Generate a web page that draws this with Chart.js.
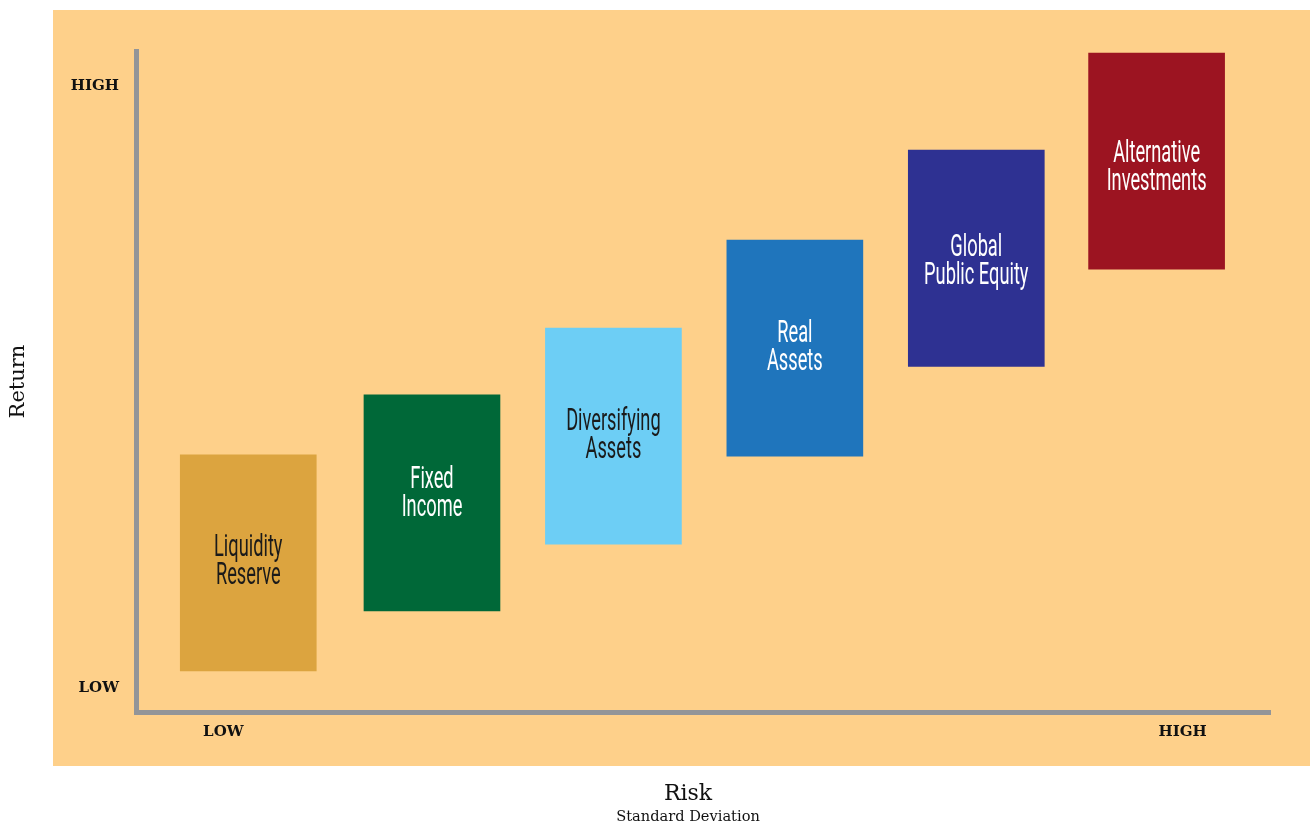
<!DOCTYPE html>
<html lang="en">
<head>
<meta charset="UTF-8">
<title>Risk vs Return</title>
<script src="https://cdn.jsdelivr.net/npm/chart.js"></script>
<style>
  html, body { margin: 0; padding: 0; background: #fff; }
  #wrap { width: 1310px; height: 825px; }
</style>
</head>
<body>
<div id="wrap"><canvas id="riskChart"></canvas></div>
<script>
// asset classes, two lines of label each
const categories = [
  ['Liquidity', 'Reserve'],
  ['Fixed', 'Income'],
  ['Diversifying', 'Assets'],
  ['Real', 'Assets'],
  ['Global', 'Public Equity'],
  ['Alternative', 'Investments']
];
// risk position (0-100) and return range (0-100)
const riskValues = [9.9, 26.1, 42.1, 58.1, 74.1, 90.0];
const returnLow  = [6.2, 15.3, 25.4, 38.7, 52.3, 67.0];
const returnHigh = [38.9, 48.0, 58.1, 71.4, 85.0, 99.7];

const yTickValues = [3.6, 94.7];
const yTickLabels = ['LOW', 'HIGH'];
const xTickValues = [7.7, 92.3];
const xTickLabels = ['LOW', 'HIGH'];

const barColors  = ['#dca43f', '#006838', '#6dcef5', '#1f75bc', '#2e3192', '#9c1421'];
const textColors = ['#1a1a1a', '#ffffff', '#1a1a1a', '#ffffff', '#ffffff', '#ffffff'];
// small nudges of the label block inside each bar (px)
const labelNudge = [-1, -9, 0, 0, 4, 7];

const serif = "'DejaVu Serif', serif";
const ink = '#111111';

// orange panel behind the plot
const panelPlugin = {
  id: 'panel',
  beforeDraw(chart) {
    const c = chart.ctx;
    c.save();
    c.fillStyle = '#ffffff';
    c.fillRect(0, 0, chart.width, chart.height);
    c.fillStyle = '#fed08a';
    c.fillRect(53, 10, chart.width - 53, 756);
    c.restore();
  }
};

// condensed labels inside each bar
const barLabelPlugin = {
  id: 'barLabels',
  afterDatasetsDraw(chart) {
    const c = chart.ctx;
    const meta = chart.getDatasetMeta(0);
    meta.data.forEach((bar, i) => {
      const lines = categories[i];
      const cy = (bar.y + bar.base) / 2 + labelNudge[i];
      const lh = 28;
      c.save();
      c.fillStyle = textColors[i];
      c.font = "400 32px Roboto, sans-serif";
      c.textAlign = 'center';
      c.textBaseline = 'middle';
      lines.forEach((t, k) => {
        const ty = cy + (k - (lines.length - 1) / 2) * lh;
        c.save();
        c.translate(bar.x, ty);
        c.scale(0.57, 1);
        c.fillText(t, 0, 0);
        c.restore();
      });
      c.restore();
    });
  }
};

// x axis title and sub-title
const riskTitlePlugin = {
  id: 'riskTitle',
  afterDraw(chart) {
    const c = chart.ctx;
    c.save();
    c.fillStyle = ink;
    c.textAlign = 'center';
    c.textBaseline = 'middle';
    c.font = "22px " + serif;
    c.fillText('Risk', 688, 794);
    c.font = "14.6px " + serif;
    c.fillText('Standard Deviation', 688, 817);
    c.restore();
  }
};

const tickFont = { family: serif, size: 15, weight: 'bold' };

new Chart(document.getElementById('riskChart'), {
  type: 'bar',
  data: {
    datasets: [{
      data: riskValues.map((x, i) => ({ x: x, y: [returnLow[i], returnHigh[i]] })),
      backgroundColor: barColors,
      borderWidth: 0,
      barThickness: 136
    }]
  },
  options: {
    responsive: true,
    maintainAspectRatio: false,
    animation: false,
    layout: { padding: { top: 51, right: 40, left: 0, bottom: 0 } },
    plugins: {
      legend: { display: false },
      tooltip: { enabled: false }
    },
    scales: {
      x: {
        type: 'linear',
        min: 0,
        max: 100,
        offset: false,
        grid: { display: false, drawTicks: false },
        border: { display: true, color: '#939598', width: 5 },
        ticks: {
          padding: 11,
          font: tickFont,
          color: ink,
          maxRotation: 0,
          autoSkip: false,
          callback: (v, i) => xTickLabels[i]
        },
        afterBuildTicks: s => { s.ticks = xTickValues.map(v => ({ value: v })); },
        afterFit: s => { s.height = 113; }
      },
      y: {
        type: 'linear',
        min: 0,
        max: 100,
        grid: { display: false, drawTicks: false },
        border: { display: true, color: '#939598', width: 5 },
        ticks: {
          padding: 17,
          font: tickFont,
          color: ink,
          autoSkip: false,
          callback: (v, i) => yTickLabels[i]
        },
        title: {
          display: true,
          text: 'Return',
          color: ink,
          font: { family: serif, size: 21 },
          padding: { top: 6, bottom: 0 }
        },
        afterBuildTicks: s => { s.ticks = yTickValues.map(v => ({ value: v })); },
        afterFit: s => { s.width = 136; }
      }
    }
  },
  plugins: [panelPlugin, barLabelPlugin, riskTitlePlugin]
});
</script>
</body>
</html>
